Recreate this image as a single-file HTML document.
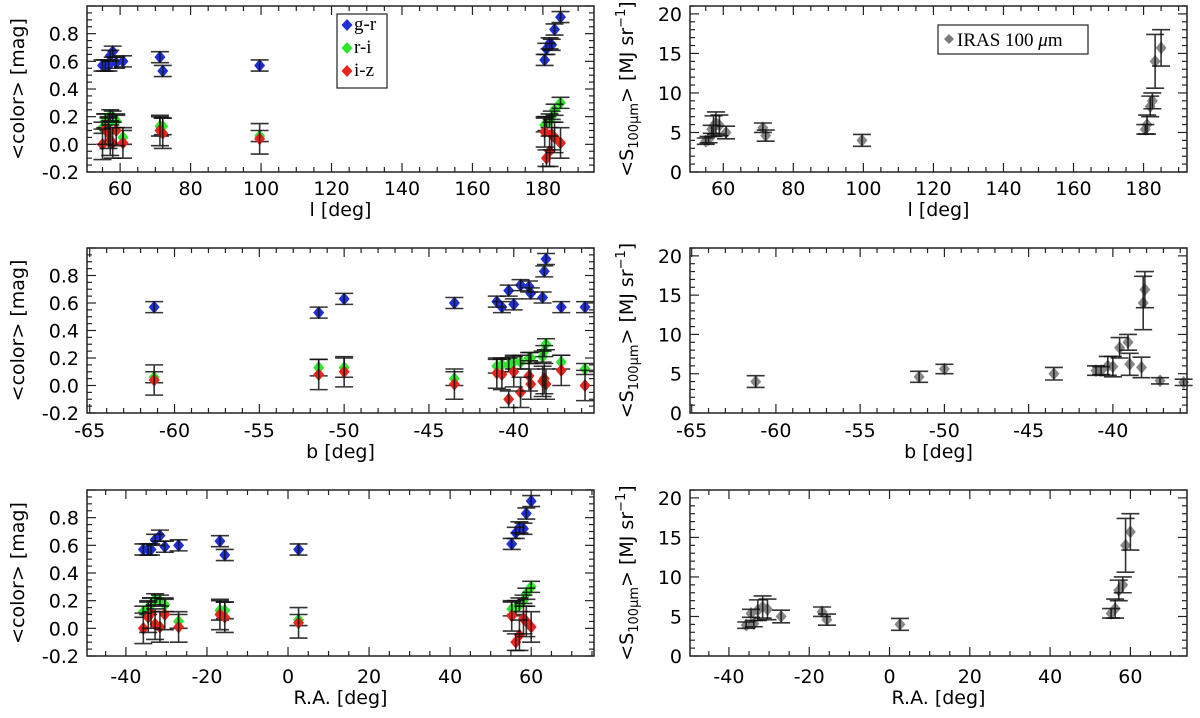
<!DOCTYPE html>
<html><head><meta charset="utf-8"><style>
html,body{margin:0;padding:0;background:#fff}
svg{display:block}
text{font-family:"DejaVu Sans","Liberation Sans",sans-serif;fill:#000}
.serif{font-family:"Liberation Serif","DejaVu Serif",serif}
</style></head><body>
<svg id="fig" width="1200" height="718" viewBox="0 0 1200 718" xmlns="http://www.w3.org/2000/svg"></svg>
<script>
// Field data (one entry per field)
const fieldL  = [99.6, 72.1, 71.3, 60.8, 180.5, 56.7, 181.0, 58.9, 181.9, 182.5, 57.9, 57.2, 183.3, 185.0, 55.8, 55.0];
const fieldB  = [-61.2, -51.5, -50.0, -43.5, -41.0, -40.7, -40.3, -40.0, -39.6, -39.1, -39.0, -38.3, -38.2, -38.1, -37.2, -35.8];
const fieldRA = [2.6, -15.6, -16.8, -27.0, 55.2, -34.5, 56.2, -30.4, 57.1, 58.1, -31.6, -32.8, 58.8, 60.0, -33.8, -35.7];
const colorGR = [0.57, 0.53, 0.63, 0.60, 0.61, 0.57, 0.69, 0.59, 0.73, 0.72, 0.67, 0.64, 0.83, 0.92, 0.57, 0.57];
const colorRI = [0.06, 0.13, 0.13, 0.05, 0.14, 0.15, 0.15, 0.17, 0.17, 0.20, 0.20, 0.21, 0.25, 0.30, 0.17, 0.12];
const colorIZ = [0.04, 0.08, 0.10, 0.01, 0.09, 0.08, -0.10, 0.10, -0.05, 0.07, 0.01, 0.03, 0.05, 0.01, 0.11, 0.00];
const errGR   = [0.04, 0.04, 0.04, 0.04, 0.04, 0.04, 0.04, 0.04, 0.04, 0.04, 0.04, 0.04, 0.04, 0.04, 0.04, 0.04];
const errRI   = [0.04, 0.06, 0.07, 0.05, 0.05, 0.05, 0.05, 0.05, 0.05, 0.04, 0.04, 0.04, 0.04, 0.04, 0.05, 0.04];
const errIZ   = [0.11, 0.11, 0.11, 0.11, 0.11, 0.11, 0.06, 0.11, 0.11, 0.11, 0.11, 0.11, 0.11, 0.11, 0.11, 0.11];
const s100    = [4.0, 4.6, 5.6, 5.0, 5.4, 5.4, 6.0, 5.9, 8.3, 9.0, 6.2, 5.8, 14.0, 15.7, 4.1, 3.9];
const errS    = [0.75, 0.7, 0.6, 0.8, 0.6, 0.5, 1.2, 1.3, 1.3, 1.0, 1.4, 1.3, 3.4, 2.3, 0.4, 0.4];
const colorTicks = [-0.2, 0.0, 0.2, 0.4, 0.6, 0.8];
const colorTickLabels = ["-0.2", "0.0", "0.2", "0.4", "0.6", "0.8"];
const sTicks = [0, 5, 10, 15, 20];
const lTicks = [60, 80, 100, 120, 140, 160, 180];
const bTicks = [-65, -60, -55, -50, -45, -40];
const raTicks = [-40, -20, 0, 20, 40, 60];

const NS = "http://www.w3.org/2000/svg";
const fig = document.getElementById('fig');
function mk(tag, attrs, parent){
  const e = document.createElementNS(NS, tag);
  for (const k in attrs) e.setAttribute(k, attrs[k]);
  (parent||fig).appendChild(e);
  return e;
}

function panel(cfg){
  const g = mk('g', {});
  
  
  const {x0,x1,y0,y1,xmin,xmax,ymin,ymax} = cfg;
  const sx = v => x0 + (v - xmin) / (xmax - xmin) * (x1 - x0);
  const sy = v => y1 - (v - ymin) / (ymax - ymin) * (y1 - y0);
  const tg = mk('g', {stroke:'#222', 'stroke-width':1.2}, g);
  
  
  const xs = Math.ceil(xmin / cfg.xminor) * cfg.xminor;
  for (let v = xs; v <= xmax + 1e-9; v += cfg.xminor){
    const isMaj = Math.abs(v / cfg.xmajor - Math.round(v / cfg.xmajor)) < 1e-6;
    const len = isMaj ? 9 : 5, px = sx(v);
    mk('line', {x1:px, x2:px, y1:y1, y2:y1-len}, tg);
    mk('line', {x1:px, x2:px, y1:y0, y2:y0+len}, tg);
  }
  const ys = Math.ceil(ymin / cfg.yminor - 1e-9) * cfg.yminor;
  for (let v = ys; v <= ymax + 1e-9; v += cfg.yminor){
    const isMaj = Math.abs(v / cfg.ymajor - Math.round(v / cfg.ymajor)) < 1e-6;
    const len = isMaj ? 9 : 5, py = sy(v);
    mk('line', {x1:x0, x2:x0+len, y1:py, y2:py}, tg);
    mk('line', {x1:x1, x2:x1-len, y1:py, y2:py}, tg);
  }
  cfg.xticks.forEach(v => {
    const t = mk('text', {x:sx(v), y:cfg.xlabY, 'text-anchor':'middle', 'font-size':19}, g);
    
    
    t.textContent = String(v);
  });
  cfg.yticks.forEach((v,i) => {
    const t = mk('text', {x:x0-8, y:sy(v)+7, 'text-anchor':'end', 'font-size':19}, g);
    
    
    t.textContent = cfg.ytickLabels ? cfg.ytickLabels[i] : String(v);
  });
  const xt = mk('text', {x:(x0+x1)/2, y:cfg.xlabY+21, 'text-anchor':'middle', 'font-size':19}, g);
  
  
  xt.textContent = cfg.xtitle;
  const yc = (y0+y1)/2;
  const yt = mk('text', {x:0, y:0, 'text-anchor':'middle', 'font-size':19, transform:`translate(${cfg.ytitleX},${yc}) rotate(-90)`}, g);
  
  
  if (cfg.kind === 'color') { yt.textContent = '<color> [mag]'; }
  else {
    yt.textContent = '<S';
    const s1 = mk('tspan', {'font-size':13, dy:5}, yt); s1.textContent = '100μm';
    const s2 = mk('tspan', {dy:-5}, yt); s2.textContent = '> [MJ sr';
    const s3 = mk('tspan', {'font-size':13, dy:-8}, yt); s3.textContent = '−1';
    const s4 = mk('tspan', {dy:8}, yt); s4.textContent = ']';
  }
  const xs_ = cfg.xdata;
  function series(vals, errs, fill, nm, opacity){
    const sg = mk('g', {}, g);
    
    
    vals.forEach((v,i) => {
      const px = sx(xs_[i]), py = sy(v);
      const d = mk('path', {d:`M${px} ${py-6.5} L${px+5.5} ${py} L${px} ${py+6.5} L${px-5.5} ${py} Z`, fill:fill, 'fill-opacity':opacity||1}, sg);
      
      
    });
    vals.forEach((v,i) => {
      const px = sx(xs_[i]), pa = sy(v+errs[i]), pb = sy(v-errs[i]);
      const e = mk('path', {d:`M${px} ${pa} L${px} ${pb} M${px-9} ${pa} L${px+9} ${pa} M${px-9} ${pb} L${px+9} ${pb}`, stroke:'#111', 'stroke-width':1.6, fill:'none', 'stroke-opacity':0.85}, sg);
      
      
    });
  }
  if (cfg.kind === 'color'){
    series(colorRI, errRI, '#2ee62a', 'r-i-series');
    series(colorIZ, errIZ, '#e8241c', 'i-z-series');
    series(colorGR, errGR, '#1f2ed6', 'g-r-series');
  } else {
    series(s100, errS, '#7a7a7a', 'iras-100-series', 0.9);
  }
  const fr = mk('rect', {x:x0, y:y0, width:x1-x0, height:y1-y0, fill:'none', stroke:'#222', 'stroke-width':1.5}, g);
  
  
}

const L = {x0:87, x1:594}, R = {x0:690, x1:1187};
const rows = [{y0:6, y1:172, xlabY:195}, {y0:248, y1:413, xlabY:437}, {y0:490, y1:656, xlabY:683}];
const xcfg = [
  {xdata:fieldL, xticks:lTicks, xmajor:20, xminor:5, xtitle:'l [deg]', lrange:[50.6,194.5], rrange:[50.5,192.4]},
  {xdata:fieldB, xticks:bTicks, xmajor:5, xminor:1, xtitle:'b [deg]', lrange:[-65.16,-35.27], rrange:[-65.1,-35.6]},
  {xdata:fieldRA, xticks:raTicks, xmajor:20, xminor:5, xtitle:'R.A. [deg]', lrange:[-49.6,75.5], rrange:[-49.7,74.1]}
];
const names = ['l','b','ra'];
rows.forEach((r,i) => {
  const xc = xcfg[i];
  panel(Object.assign({}, r, L, xc, {name:'color-vs-'+names[i]+'-panel', kind:'color', xmin:xc.lrange[0], xmax:xc.lrange[1],
    ymin:-0.2, ymax:1.0, ymajor:0.2, yminor:0.05, yticks:colorTicks, ytickLabels:colorTickLabels, ytitleX:24}));
  panel(Object.assign({}, r, R, xc, {name:'s100-vs-'+names[i]+'-panel', kind:'s', xmin:xc.rrange[0], xmax:xc.rrange[1],
    ymin:0, ymax:21, ymajor:5, yminor:1, yticks:sTicks, ytitleX:633}));
});

const lg = mk('g', {});


mk('rect', {x:337, y:14, width:50, height:74, fill:'#fff', stroke:'#222', 'stroke-width':1.2}, lg);
[['g-r','#1f2ed6',30],['r-i','#2ee62a',53],['i-z','#e8241c',76]].forEach(e => {
  const en = mk('g', {}, lg);
  
  
  const y = e[2] - 5;
  mk('path', {d:`M347 ${y-6} L352.5 ${y} L347 ${y+6} L341.5 ${y} Z`, fill:e[1]}, en);
  const t = mk('text', {x:354, y:e[2], 'font-size':19, class:'serif'}, en);
  t.textContent = e[0];
});
const lg2 = mk('g', {});


mk('rect', {x:938, y:25, width:150, height:29, fill:'#fff', stroke:'#222', 'stroke-width':1.2}, lg2);
mk('path', {d:'M949 34 L954 39 L949 44 L944 39 Z', fill:'#7a7a7a'}, lg2);
const lt = mk('text', {x:957, y:46, 'font-size':19, class:'serif'}, lg2);
lt.textContent = 'IRAS 100 ';
const mu = mk('tspan', {'font-style':'italic'}, lt); mu.textContent = 'μ';
const mm = mk('tspan', {}, lt); mm.textContent = 'm';
</script>
</body></html>
